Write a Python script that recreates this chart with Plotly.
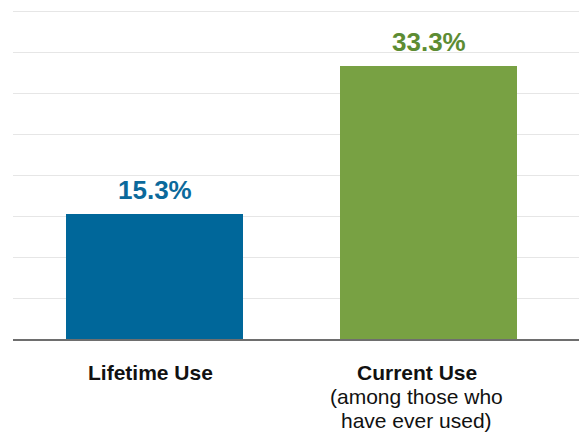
import plotly.graph_objects as go

# Share of respondents (percent)
categories = ["Lifetime Use", "Current Use"]
subtitles = [[], ["(among those who", "have ever used)"]]
values = [15.3, 33.3]
value_labels = ["15.3%", "33.3%"]

bar_colors = ["#00679a", "#78a143"]
text_colors = ["#0b699b", "#5d8c33"]
label_xshift = [-4, -12]

FONT = "Liberation Sans, Arial, Helvetica, sans-serif"

fig = go.Figure(
    go.Bar(
        x=categories,
        y=values,
        marker=dict(color=bar_colors, line=dict(width=0)),
        width=0.646,
        hoverinfo="skip",
    )
)

# Value labels above each bar
for cat, val, txt, col in zip(categories, values, value_labels, text_colors):
    fig.add_annotation(
        x=cat, y=val, text=f"<b>{txt}</b>", showarrow=False,
        xanchor="center", yanchor="bottom", yshift=7,
        font=dict(family=FONT, size=26, color=col),
    )

# Category names under the axis, with optional second/third lines
for cat, subs, dx in zip(categories, subtitles, label_xshift):
    lines = [f"<b>{cat}</b>"] + subs
    for i, line in enumerate(lines):
        fig.add_annotation(
            x=cat, y=0, yref="y", text=line, showarrow=False,
            xanchor="center", yanchor="top", xshift=dx, yshift=-20 - 24 * i,
            font=dict(family=FONT, size=21, color="#111111"),
        )

fig.update_layout(
    width=579, height=440,
    margin=dict(l=13, r=0, t=10, b=101),
    paper_bgcolor="white", plot_bgcolor="white",
    showlegend=False,
    bargap=0,
)
fig.update_xaxes(
    range=[-0.5164, 1.549], showticklabels=False, ticks="",
    showgrid=False, zeroline=False,
    showline=True, linecolor="#6e6e6e", linewidth=1.5,
)
fig.update_yaxes(
    range=[0, 40.15], tick0=0, dtick=5, showticklabels=False, ticks="",
    showgrid=True, gridcolor="#e6e6e6", gridwidth=1,
    zeroline=False, showline=False,
)

fig.write_html("out.html")
